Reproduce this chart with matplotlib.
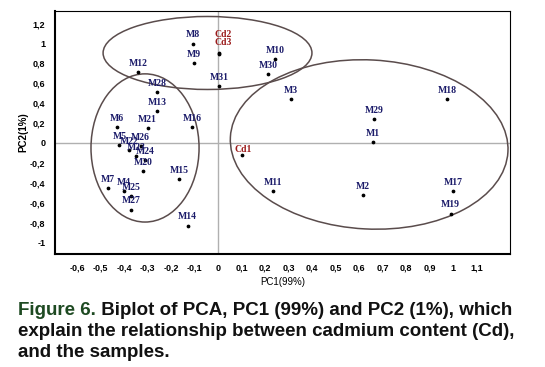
import matplotlib
matplotlib.use("Agg")
import matplotlib.pyplot as plt
from matplotlib.patches import Ellipse
from matplotlib.transforms import Affine2D
from matplotlib.ticker import FuncFormatter

# sample scores on PC1 / PC2
names = ['M1', 'M2', 'M3', 'M4', 'M5', 'M6', 'M7', 'M8', 'M9', 'M10',
         'M11', 'M12', 'M13', 'M14', 'M15', 'M16', 'M17', 'M18', 'M19', 'M20',
         'M21', 'M22', 'M23', 'M24', 'M25', 'M26', 'M27', 'M28', 'M29', 'M30',
         'M31']
pc1 = [0.66, 0.617, 0.31, -0.40, -0.42, -0.43, -0.47, -0.106, -0.102, 0.243,
       0.234, -0.34, -0.26, -0.13, -0.166, -0.11, 1.0, 0.975, 0.99, -0.32,
       -0.30, -0.38, -0.35, -0.31, -0.37, -0.33, -0.37, -0.26, 0.664, 0.213,
       0.004]
pc2 = [0.01, -0.52, 0.44, -0.48, -0.02, 0.16, -0.45, 1.0, 0.80, 0.84,
       -0.48, 0.71, 0.32, -0.83, -0.36, 0.16, -0.48, 0.44, -0.71, -0.28,
       0.15, -0.07, -0.13, -0.17, -0.53, -0.03, -0.67, 0.51, 0.24, 0.69,
       0.57]

# cadmium loadings
cd_names = ['Cd1', 'Cd2', 'Cd3']
cd_pc1 = [0.10, 0.005, 0.005]
cd_pc2 = [-0.12, 0.90, 0.89]

# groups drawn as ellipses: centre x, centre y, width, height, tilt (deg on screen)
groups = [(-0.045, 0.905, 0.889, 0.734, 0),
          (-0.311, -0.05, 0.46, 1.49, 0),
          (0.643, -0.015, 1.183, 1.70, -3)]

xticks = [-0.6, -0.5, -0.4, -0.3, -0.2, -0.1, 0, 0.1, 0.2, 0.3, 0.4, 0.5,
          0.6, 0.7, 0.8, 0.9, 1, 1.1]
yticks = [-1, -0.8, -0.6, -0.4, -0.2, 0, 0.2, 0.4, 0.6, 0.8, 1, 1.2]

fig = plt.figure(figsize=(5.45, 3.67), dpi=100)
ax = fig.add_axes([0.101, 0.308, 0.835, 0.662])
xlim = (-0.694, 1.243)
ylim = (-1.116, 1.327)
ax.set_xlim(xlim)
ax.set_ylim(ylim)

ax.axhline(0, color='#b0b0b0', lw=1, zorder=0)
ax.axvline(0, color='#b0b0b0', lw=1, zorder=0)

# screen aspect so the tilt is done in pixel-like space
w_px = 0.835 * 545
h_px = 0.662 * 367
sx = w_px / (xlim[1] - xlim[0])
sy = h_px / (ylim[1] - ylim[0])
for cx, cy, w, h, ang in groups:
    e = Ellipse((0, 0), w * sx, h * sy, angle=ang, fill=False,
                edgecolor='#5a4c4c', lw=1.1)
    e.set_transform(Affine2D().scale(1 / sx, 1 / sy).translate(cx, cy) + ax.transData)
    ax.add_patch(e)

ax.plot(pc1, pc2, 'o', color='black', ms=1.7, ls='none')
ax.plot(cd_pc1, cd_pc2, 'o', color='black', ms=1.7, ls='none')

lab_font = dict(family='Liberation Serif', fontweight='bold', fontsize=7)
for n, x, y in zip(names, pc1, pc2):
    ax.annotate(n, (x, y), xytext=(0, 3), textcoords='offset points',
                ha='center', va='bottom', color='#1c1c6a', **lab_font)

cd_off = {'Cd1': (1.5, 1), 'Cd2': (2.5, 10.5), 'Cd3': (3, 5.5)}
for n, x, y in zip(cd_names, cd_pc1, cd_pc2):
    ax.annotate(n, (x, y), xytext=cd_off[n], textcoords='offset points',
                ha='center', va='bottom', color='#9b1a1a', **lab_font)

comma = FuncFormatter(lambda v, p: ('%g' % round(v, 2)).replace('.', ','))
ax.set_xticks(xticks)
ax.set_yticks(yticks)
ax.xaxis.set_major_formatter(comma)
ax.yaxis.set_major_formatter(comma)
ax.tick_params(length=0, labelsize=6.5, pad=7)
for t in ax.get_xticklabels() + ax.get_yticklabels():
    t.set_fontweight('bold')
    t.set_family('Liberation Sans')

for s in ax.spines.values():
    s.set_color('black')
    s.set_linewidth(0.8)
ax.spines['left'].set_linewidth(1.5)
ax.spines['bottom'].set_linewidth(1.5)

ax.set_xlabel('PC1(99%)', fontsize=7, family='Liberation Sans', labelpad=3)
ax.set_ylabel('PC2(1%)', fontsize=7, family='Liberation Sans',
              fontweight='bold', labelpad=1)

cap = dict(family='Liberation Sans', fontweight='bold', fontsize=13.5)
t1 = fig.text(0.033, 1 - 315 / 367, 'Figure 6.', color='#1e4a22', va='baseline', **cap)
ax.annotate(' Biplot of PCA, PC1 (99%) and PC2 (1%), which', xy=(1, 0),
            xycoords=t1, va='bottom', ha='left', color='#111111',
            annotation_clip=False, **cap)
fig.text(0.033, 1 - 336 / 367, 'explain the relationship between cadmium content (Cd),',
         color='#111111', va='baseline', **cap)
fig.text(0.033, 1 - 357 / 367, 'and the samples.', color='#111111', va='baseline', **cap)

fig.savefig('out.png', dpi=100)
